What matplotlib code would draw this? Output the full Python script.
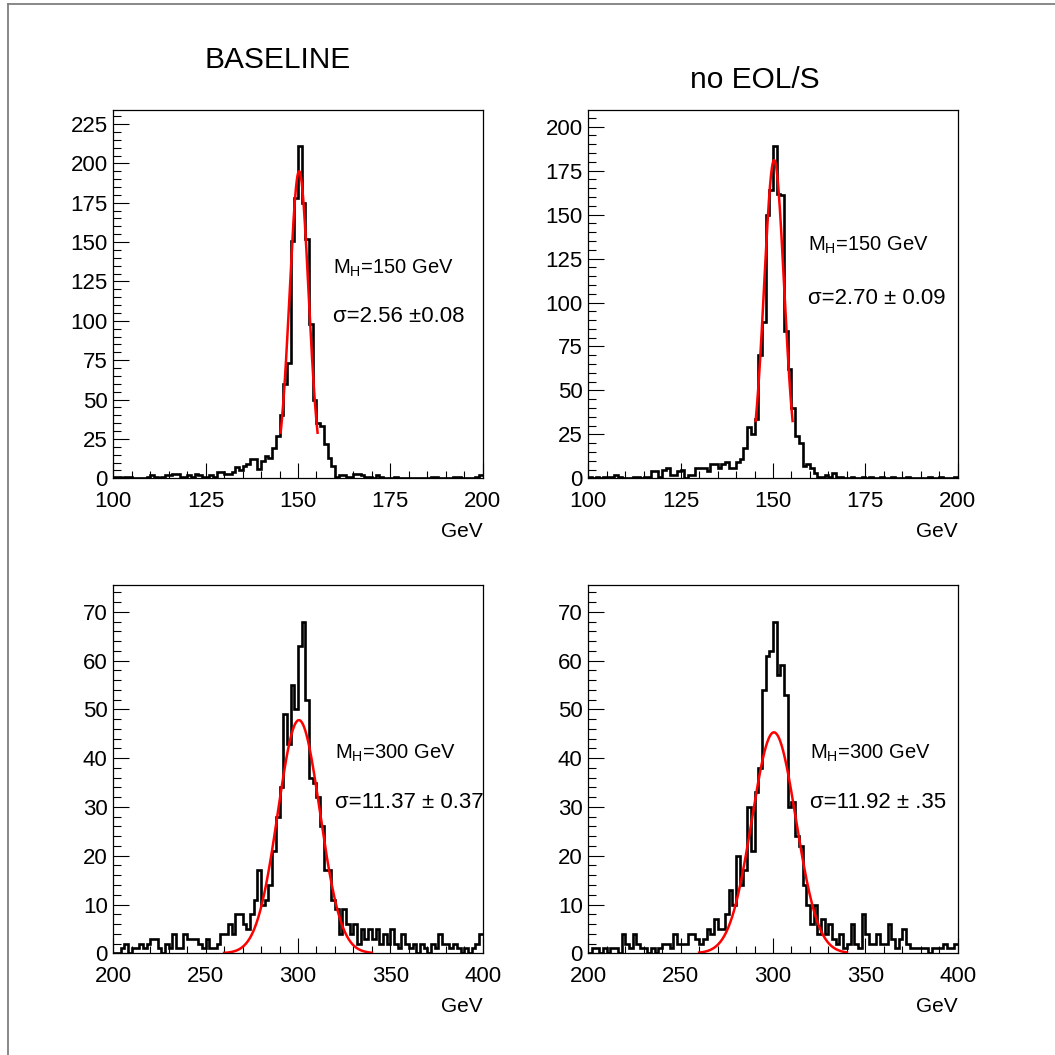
import numpy as np
import matplotlib
matplotlib.use("Agg")
import matplotlib.pyplot as plt
from matplotlib.ticker import MultipleLocator
from matplotlib.lines import Line2D

plt.rcParams['font.family'] = ['Liberation Sans', 'DejaVu Sans']
plt.rcParams['mathtext.fontset'] = 'custom'
plt.rcParams['mathtext.rm'] = 'Liberation Sans'
plt.rcParams['mathtext.it'] = 'Liberation Sans:italic'

# ---------------- data ----------------
# M_H = 150 GeV, 1 GeV bins from 100 to 200
tl_counts = [1, 1, 0, 1, 1, 0, 0, 0, 0, 1,
             2, 1, 0, 1, 2, 2, 3, 3, 1, 1,
             2, 1, 3, 2, 1, 1, 2, 1, 4, 4,
             3, 3, 4, 7, 5, 8, 9, 12, 12, 6,
             11, 14, 13, 19, 27, 40, 60, 73, 151, 178,
             211, 175, 152, 98, 50, 35, 33, 22, 13, 8,
             1, 2, 2, 1, 1, 3, 3, 2, 1, 1,
             0, 2, 1, 0, 0, 0, 1, 0, 0, 0,
             0, 0, 0, 0, 0, 0, 1, 1, 0, 0,
             0, 0, 1, 1, 0, 0, 0, 0, 1, 2]
tr_counts = [1, 0, 1, 0, 1, 1, 1, 2, 1, 0,
             0, 0, 1, 1, 0, 1, 1, 4, 4, 1,
             5, 6, 2, 2, 4, 5, 0, 2, 2, 6,
             6, 6, 4, 8, 8, 6, 8, 9, 6, 6,
             9, 11, 17, 29, 25, 34, 70, 89, 150, 164,
             189, 162, 161, 84, 62, 40, 24, 20, 7, 8,
             6, 3, 1, 1, 2, 1, 3, 1, 1, 0,
             0, 1, 0, 0, 1, 0, 1, 0, 0, 1,
             0, 0, 1, 0, 0, 0, 1, 0, 0, 0,
             0, 0, 1, 0, 0, 1, 0, 0, 0, 1]
# M_H = 300 GeV, 2 GeV bins from 200 to 400
bl_counts = [0, 0, 1, 2, 0, 1, 1, 2, 1, 2,
             3, 3, 1, 0, 2, 1, 4, 1, 1, 4,
             3, 3, 3, 2, 1, 3, 1, 1, 2, 4,
             4, 6, 4, 8, 8, 6, 5, 8, 11, 17,
             10, 11, 14, 21, 28, 34, 49, 43, 55, 50,
             63, 68, 52, 36, 35, 32, 26, 17, 17, 11,
             9, 4, 9, 6, 4, 6, 2, 5, 3, 5,
             3, 5, 2, 4, 2, 5, 2, 1, 4, 2,
             1, 2, 0, 2, 1, 0, 2, 1, 4, 2,
             2, 1, 2, 1, 0, 1, 0, 1, 2, 4]
br_counts = [0, 1, 1, 0, 1, 0, 1, 1, 0, 4,
             2, 1, 4, 2, 1, 1, 0, 1, 0, 1,
             2, 2, 1, 4, 2, 2, 2, 4, 4, 3,
             2, 3, 5, 4, 7, 5, 5, 8, 13, 10,
             20, 14, 17, 30, 21, 33, 38, 54, 61, 62,
             68, 57, 59, 53, 30, 31, 24, 22, 14, 10,
             6, 10, 4, 7, 4, 6, 3, 2, 4, 1,
             2, 6, 2, 1, 8, 4, 2, 2, 4, 2,
             2, 6, 3, 1, 3, 5, 2, 1, 1, 1,
             1, 1, 0, 1, 1, 1, 2, 1, 1, 2]

# Gaussian fits: amplitude, mean, sigma, fit range
tl_fit = (195.0, 150.3, 2.56, 145.3, 155.3)
tr_fit = (181.0, 150.3, 2.70, 145.3, 155.3)
bl_fit = (47.8, 300.5, 11.37, 260.0, 340.0)
br_fit = (45.3, 300.5, 11.92, 260.0, 340.0)

titles = ["BASELINE", "no EOL/S"]
mass_labels = [r"M$_{\rm H}$=150 GeV", r"M$_{\rm H}$=150 GeV",
               r"M$_{\rm H}$=300 GeV", r"M$_{\rm H}$=300 GeV"]
sigma_labels = ["σ=2.56 ±0.08", "σ=2.70 ± 0.09",
                "σ=11.37 ± 0.37", "σ=11.92 ± .35"]

# ---------------- figure ----------------
W = H = 1055
fig = plt.figure(figsize=(W / 100, H / 100), dpi=100)
fig.patch.set_facecolor('white')


def add_ax(l, t, r, b):
    return fig.add_axes([l / W, 1 - b / H, (r - l) / W, (b - t) / H])


def fx(x):
    return x / W


def fy(y):
    return 1 - y / H


panels = [
    dict(box=(113.3, 110, 482.7, 478.3), counts=tl_counts, lo=100, hi=200,
         ytop=233.9, ymaj=25, ymin=5, xmaj=25, xmin=5, fit=tl_fit),
    dict(box=(588.3, 110, 957.7, 478.3), counts=tr_counts, lo=100, hi=200,
         ytop=209.5, ymaj=25, ymin=5, xmaj=25, xmin=5, fit=tr_fit),
    dict(box=(113.3, 585, 482.7, 953.3), counts=bl_counts, lo=200, hi=400,
         ytop=75.5, ymaj=10, ymin=2, xmaj=50, xmin=10, fit=bl_fit),
    dict(box=(588.3, 585, 957.7, 953.3), counts=br_counts, lo=200, hi=400,
         ytop=75.5, ymaj=10, ymin=2, xmaj=50, xmin=10, fit=br_fit),
]

text_pos = [(333, 268, 316), (808, 245, 298), (335, 753, 802), (810, 753, 802)]

for i, p in enumerate(panels):
    ax = add_ax(*p['box'])
    counts = np.array(p['counts'], dtype=float)
    edges = np.linspace(p['lo'], p['hi'], len(counts) + 1)
    ax.stairs(counts, edges, color='black', lw=1.9, baseline=None)
    A, mu, s, f0, f1 = p['fit']
    xf = np.linspace(f0, f1, 300)
    ax.plot(xf, A * np.exp(-0.5 * ((xf - mu) / s) ** 2), color='#ff0000', lw=1.8)
    ax.set_xlim(p['lo'], p['hi'])
    ax.set_ylim(0, p['ytop'])
    ax.xaxis.set_major_locator(MultipleLocator(p['xmaj']))
    ax.xaxis.set_minor_locator(MultipleLocator(p['xmin']))
    ax.yaxis.set_major_locator(MultipleLocator(p['ymaj']))
    ax.yaxis.set_minor_locator(MultipleLocator(p['ymin']))
    ax.tick_params(which='both', direction='in', top=False, right=False,
                   width=0.8, labelsize=16)
    ax.tick_params(axis='y', which='major', length=11.5, pad=4)
    ax.tick_params(axis='y', which='minor', length=6)
    ax.tick_params(axis='x', which='major', length=11, pad=9.5)
    ax.tick_params(axis='x', which='minor', length=5)
    for sp in ax.spines.values():
        sp.set_linewidth(0.9)
    # x-axis label
    xr = p['box'][2]
    yb = p['box'][3]
    fig.text(fx(xr), fy(yb + 53), "GeV", ha='right', va='center', fontsize=15)
    tx, ty1, ty2 = text_pos[i]
    fig.text(fx(tx), fy(ty1), mass_labels[i], ha='left', va='center', fontsize=14.5)
    fig.text(fx(tx), fy(ty2), sigma_labels[i], ha='left', va='center', fontsize=16)

fig.text(fx(278), fy(59.5), titles[0], ha='center', va='center', fontsize=21.5)
fig.text(fx(755), fy(79.5), titles[1], ha='center', va='center', fontsize=21.5)

# page frame
fig.add_artist(Line2D([fx(8), fx(1055)], [fy(3.5), fy(3.5)], color='#7f7f7f', lw=1.3))
fig.add_artist(Line2D([fx(8), fx(8)], [fy(3.5), fy(1055)], color='#7f7f7f', lw=1.3))

fig.savefig("out.png", dpi=100)
